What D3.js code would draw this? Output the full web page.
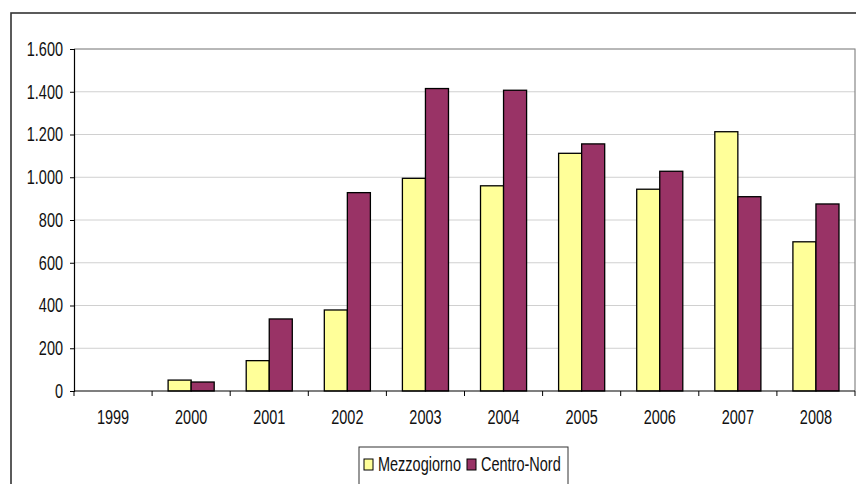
<!DOCTYPE html>
<html>
<head>
<meta charset="utf-8">
<script src="https://cdn.jsdelivr.net/npm/d3@7"></script>
<style>
    body { margin: 0; background: #fff; }
    svg { display: block; font-family: "Liberation Sans", Arial, sans-serif; }
    .tall { transform-box: fill-box; transform-origin: center; transform: scaleY(1.36); }
</style>
</head>
<body>
<svg id="chart"></svg>
<script>
// values
var years = ["1999", "2000", "2001", "2002", "2003", "2004", "2005", "2006", "2007", "2008"];
var series = ["Mezzogiorno", "Centro-Nord"];
var mezzogiorno = [0, 51, 142, 379, 995, 960, 1112, 944, 1213, 698];
var centroNord = [0, 42, 337, 928, 1415, 1407, 1156, 1028, 909, 875];
var yTicks = [0, 200, 400, 600, 800, 1000, 1200, 1400, 1600];
var colors = ["#FFFF99", "#993366"];

document.addEventListener('DOMContentLoaded', function () {
    var W = 856, H = 484;
    var left = 74, right = 855, top = 49, bottom = 391;

    const svg = d3.select('#chart')
        .attr("width", W)
        .attr("height", H);

    // outer chart frame
    svg.append("rect")
        .attr("x", 11).attr("y", 13)
        .attr("width", 900).attr("height", 600)
        .attr("fill", "#fff")
        .attr("stroke", "#333")
        .attr("stroke-width", 1.6);

    const it = d3.formatLocale({ decimal: ",", thousands: ".", grouping: [3], currency: ["", ""] });
    const fmt = it.format(",");

    // scales
    const x0 = d3.scaleBand()
        .domain(years)
        .range([left, right])
        .paddingInner(0.41)
        .paddingOuter(0.205);

    const x1 = d3.scaleBand()
        .domain(series)
        .range([0, x0.bandwidth()]);

    const y = d3.scaleLinear()
        .domain([0, 1600])
        .range([bottom, top]);

    // gridlines
    svg.append("g")
        .selectAll("line")
        .data(yTicks.slice(1))
        .join("line")
        .attr("x1", left).attr("x2", right)
        .attr("y1", d => y(d)).attr("y2", d => y(d))
        .attr("stroke", "#d0d0d0")
        .attr("stroke-width", 1);

    // plot area border (top + right)
    svg.append("path")
        .attr("d", `M${left},${top}H${right}V${bottom}`)
        .attr("fill", "none")
        .attr("stroke", "#888")
        .attr("stroke-width", 1.2);

    // bars
    const data = years.map((yr, i) => ({ year: yr, values: [mezzogiorno[i], centroNord[i]] }));
    svg.append("g")
        .selectAll("g")
        .data(data)
        .join("g")
        .attr("transform", d => `translate(${x0(d.year)},0)`)
        .selectAll("rect")
        .data(d => d.values.map((v, k) => ({ key: series[k], value: v, k: k })))
        .join("rect")
        .filter(d => d.value > 0)
        .attr("x", d => x1(d.key))
        .attr("y", d => y(d.value))
        .attr("width", x1.bandwidth())
        .attr("height", d => y(0) - y(d.value))
        .attr("fill", d => colors[d.k])
        .attr("stroke", "#000")
        .attr("stroke-width", 1.3);

    // y axis
    const yAxis = svg.append("g")
        .attr("transform", `translate(${left},0)`)
        .call(d3.axisLeft(y).tickValues(yTicks).tickSize(4).tickPadding(7).tickFormat(fmt));
    yAxis.select(".domain").attr("stroke", "#000").attr("stroke-width", 1.2);
    yAxis.selectAll(".tick line").attr("stroke", "#000");
    yAxis.selectAll("text")
        .attr("class", "tall")
        .attr("font-size", 14.5)
        .attr("font-family", "Liberation Sans, Arial, sans-serif")
        .attr("fill", "#111");

    // x axis (labels only)
    const xAxis = svg.append("g")
        .attr("transform", `translate(0,${bottom})`)
        .call(d3.axisBottom(x0).tickSize(0).tickPadding(21));
    xAxis.select(".domain").remove();
    xAxis.selectAll("text")
        .attr("class", "tall")
        .attr("font-size", 14.5)
        .attr("font-family", "Liberation Sans, Arial, sans-serif")
        .attr("fill", "#111");

    svg.append("line")
        .attr("x1", left).attr("x2", right)
        .attr("y1", bottom).attr("y2", bottom)
        .attr("stroke", "#000")
        .attr("stroke-width", 1.2);

    // category boundary ticks
    const half = x0.step() * x0.paddingOuter();
    const bounds = years.map(d => x0(d) - half).concat([right]);
    svg.append("g")
        .selectAll("line")
        .data(bounds)
        .join("line")
        .attr("x1", d => d).attr("x2", d => d)
        .attr("y1", bottom).attr("y2", bottom + 5)
        .attr("stroke", "#000");

    // legend
    const legend = svg.append("g");
    legend.append("rect")
        .attr("x", 359).attr("y", 447)
        .attr("width", 209).attr("height", 60)
        .attr("fill", "#fff")
        .attr("stroke", "#333")
        .attr("stroke-width", 1);

    const lx = [364, 467];
    series.forEach(function (s, k) {
        legend.append("rect")
            .attr("x", lx[k]).attr("y", 459)
            .attr("width", 9).attr("height", 11)
            .attr("fill", colors[k])
            .attr("stroke", "#000")
            .attr("stroke-width", 1);
        legend.append("text")
            .attr("class", "tall")
            .attr("x", lx[k] + 14)
            .attr("y", 469)
            .attr("font-size", 14.5)
            .attr("fill", "#111")
            .text(s);
    });
});
</script>
</body>
</html>
